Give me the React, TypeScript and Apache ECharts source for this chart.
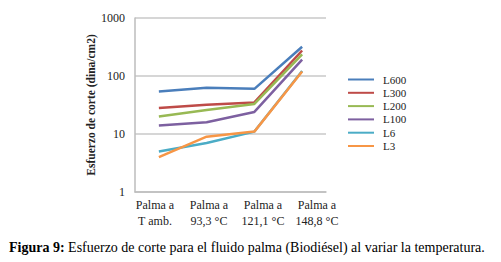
import React, { useEffect, useRef } from "react";
import * as echarts from "echarts";

const categories = ["Palma a\nT amb.", "Palma a\n93,3 °C", "Palma a\n121,1 °C", "Palma a\n148,8 °C"];
const seriesNames = ["L600", "L300", "L200", "L100", "L6", "L3"];
const L600 = [54, 63, 60, 320];
const L300 = [28, 32, 35, 275];
const L200 = [20, 26, 33, 235];
const L100 = [14, 16, 24, 192];
const L6 = [5, 7, 11, 122];
const L3 = [4, 9, 11, 120];
const seriesValues = [L600, L300, L200, L100, L6, L3];
const colors = ["#4a7ebb", "#be4b48", "#98b954", "#7d60a0", "#4bacc6", "#f79646"];
const caption = "Esfuerzo de corte para el fluido palma (Biodiésel) al variar la temperatura.";
const yTitle = "Esfuerzo de corte (dina/cm2)";

const SERIF = "Liberation Serif";

export default function App() {
  const ref = useRef<HTMLDivElement>(null);
  useEffect(() => {
    document.body.style.margin = "0";
    const chart = echarts.init(ref.current!, null, { renderer: "svg" });
    chart.setOption({
      animation: false,
      backgroundColor: "#ffffff",
      textStyle: { fontFamily: SERIF },
      grid: [
        { left: 135, right: 175, top: 18, bottom: 70 },
        { left: 128, right: 157, top: 18, bottom: 70 },
      ],
      legend: {
        orient: "vertical",
        left: 343,
        top: 68,
        icon: "rect",
        itemWidth: 26,
        itemHeight: 2,
        itemGap: 0.3,
        data: seriesNames,
        textStyle: { fontFamily: SERIF, fontSize: 11, color: "#222", lineHeight: 13, padding: [0, 0, 0, 4] },
      },
      xAxis: [
        {
          type: "category",
          gridIndex: 0,
          data: categories,
          boundaryGap: true,
          axisLine: { show: true, lineStyle: { color: "#bdbdbd", width: 1.5 } },
          axisTick: { show: false },
          axisLabel: { show: false },
        },
        {
          type: "category",
          gridIndex: 1,
          data: categories,
          boundaryGap: true,
          axisLine: { show: false },
          axisTick: { show: false },
          axisLabel: {
            show: true,
            interval: 0,
            margin: 5,
            fontFamily: SERIF,
            fontSize: 12,
            lineHeight: 16,
            color: "#222",
          },
        },
      ],
      yAxis: [
        {
          type: "log",
          gridIndex: 0,
          logBase: 10,
          min: 1,
          max: 1000,
          name: yTitle,
          nameLocation: "middle",
          nameRotate: 90,
          nameGap: 36,
          nameTextStyle: { fontFamily: SERIF, fontSize: 11.5, fontWeight: "bold", color: "#222" },
          axisLine: { show: true, lineStyle: { color: "#bdbdbd", width: 1.5 } },
          axisTick: { show: false },
          axisLabel: {
            fontFamily: SERIF,
            fontSize: 12,
            color: "#222",
            margin: 10,
            formatter: (v: number) => String(Math.round(v)),
          },
          splitLine: { show: true, lineStyle: { color: "#c8c8c8", width: 1.5 } },
        },
        {
          type: "value",
          gridIndex: 1,
          show: false,
        },
      ],
      series: seriesNames.map((name, i) => ({
        name,
        type: "line",
        xAxisIndex: 0,
        yAxisIndex: 0,
        data: seriesValues[i],
        color: colors[i],
        showSymbol: false,
        symbol: "none",
        lineStyle: { width: 2.5, color: colors[i] },
      })),
      graphic: [
        {
          type: "text",
          left: 9,
          top: 240,
          style: {
            text: "{b|Figura 9:}{n| " + caption + "}",
            rich: {
              b: { fontFamily: SERIF, fontSize: 14, fontWeight: "bold", fill: "#000" },
              n: { fontFamily: SERIF, fontSize: 14, fill: "#000" },
            },
            fontFamily: SERIF,
            fontSize: 14,
            fill: "#000",
          },
        },
      ],
    });
    return () => chart.dispose();
  }, []);
  return <div ref={ref} style={{ position: "absolute", left: 0, top: 0, width: 501, height: 262 }} />;
}
